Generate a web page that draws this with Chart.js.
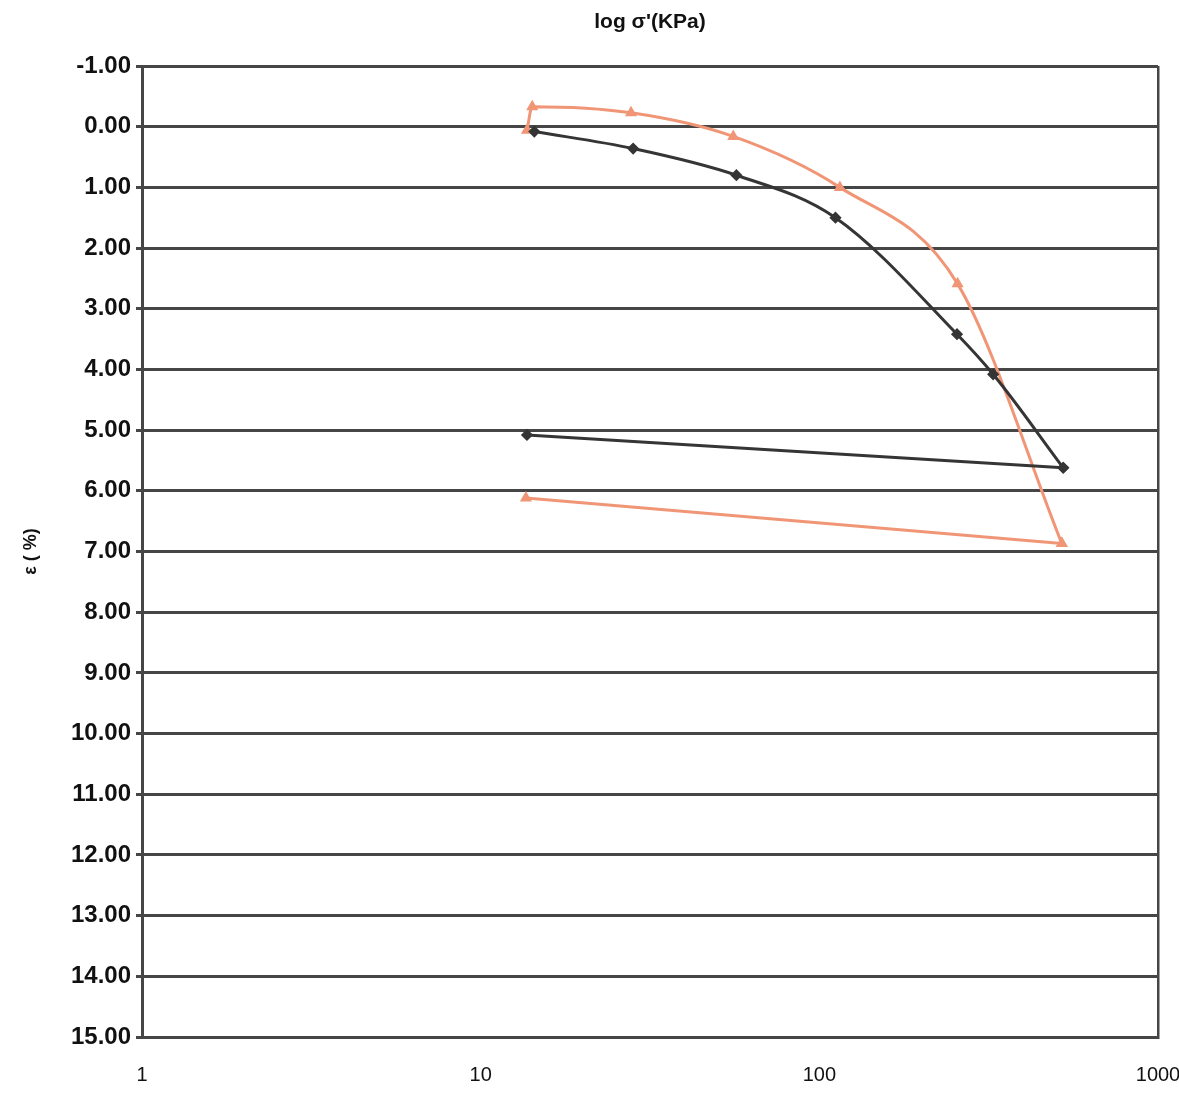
<!DOCTYPE html>
<html>
<head>
<meta charset="utf-8">
<script src="https://cdn.jsdelivr.net/npm/chart.js@4/dist/chart.umd.min.js"></script>
<style>
html,body{margin:0;padding:0;background:#fff;}
#wrap{width:1179px;height:1099px;position:relative;}
</style>
</head>
<body>
<div id="wrap"><canvas id="c" width="1179" height="1099"></canvas></div>
<script>
// Stress (kPa) and strain (%)
const blackLoadStress = [14.4, 28.2, 56.9, 111.6, 255, 326, 525];
const blackLoadStrain = [0.08, 0.36, 0.80, 1.50, 3.42, 4.08, 5.62];
const blackUnloadStress = [525, 13.7];
const blackUnloadStrain = [5.62, 5.08];
const redLoadStress = [13.7, 14.2, 27.8, 55.7, 115, 256, 520];
const redLoadStrain = [0.06, -0.33, -0.23, 0.16, 1.00, 2.59, 6.87];
const redUnloadStress = [520, 13.6];
const redUnloadStrain = [6.87, 6.12];
const xTickValues = [1, 10, 100, 1000];
const yMin = -1, yMax = 15;
const xTitle = "log σ'(KPa)";
const yTitle = "ε ( %)";

const toPts = (xs, ys) => xs.map((x, i) => ({x: x, y: ys[i]}));
const GRID = '#464646';
const BLACK = '#353535';
const RED = 'rgb(240,150,118)';
const FONT = 'Liberation Sans, Arial, sans-serif';

function series(xs, ys, color, style, smooth) {
  const d = {
    data: toPts(xs, ys),
    xAxisID: 'x',
    yAxisID: 'y',
    showLine: true,
    borderColor: color,
    backgroundColor: color,
    borderWidth: 3,
    pointStyle: style,
    pointRadius: 4,
    tension: smooth ? 0.4 : 0
  };
  if (smooth) d.cubicInterpolationMode = 'monotone';
  return d;
}

new Chart(document.getElementById('c'), {
  type: 'scatter',
  data: {
    datasets: [
      series(blackLoadStress, blackLoadStrain, BLACK, 'rectRot', true),
      series(blackUnloadStress, blackUnloadStrain, BLACK, 'rectRot', false),
      series(redLoadStress, redLoadStrain, RED, 'triangle', true),
      series(redUnloadStress, redUnloadStrain, RED, 'triangle', false)
    ]
  },
  options: {
    responsive: false,
    animation: false,
    layout: {padding: {left: 0, right: 0, top: 0, bottom: 0}},
    plugins: {
      legend: {display: false},
      tooltip: {enabled: false},
      title: {display: false}
    },
    scales: {
      x: {
        type: 'logarithmic',
        position: 'bottom',
        min: 1,
        max: 1000,
        afterBuildTicks: s => { s.ticks = xTickValues.map(v => ({value: v})); },
        afterFit: s => { s.height = 1099 - 1037; s.paddingRight = 21; },
        ticks: {
          color: '#111',
          padding: 26,
          maxRotation: 0,
          autoSkip: false,
          font: {family: FONT, size: 20},
          callback: v => String(v)
        },
        grid: {
          drawTicks: false,
          color: c => (c.tick && c.tick.value === 1000) ? GRID : 'rgba(0,0,0,0)',
          lineWidth: 2.5
        },
        border: {display: true, color: GRID, width: 3}
      },
      xTop: {
        type: 'linear',
        position: 'top',
        min: 0, max: 1,
        afterFit: s => { s.height = 66; },
        ticks: {display: false},
        grid: {display: false},
        border: {display: false},
        title: {
          display: true,
          text: xTitle,
          color: '#111',
          font: {family: FONT, size: 21, weight: 'bold'},
          padding: {top: 10, bottom: 0}
        }
      },
      y: {
        min: yMin,
        max: yMax,
        reverse: true,
        afterFit: s => { s.width = 142; },
        ticks: {
          stepSize: 1,
          color: '#111',
          padding: 5,
          font: {family: FONT, size: 24, weight: 'bold'},
          callback: v => Number(v).toFixed(2)
        },
        grid: {color: GRID, lineWidth: 3, tickLength: 6},
        border: {display: true, color: GRID, width: 3},
        title: {
          display: true,
          text: yTitle,
          color: '#111',
          font: {family: FONT, size: 18, weight: 'bold'},
          padding: {top: 20, bottom: 0}
        }
      }
    }
  }
});
</script>
</body>
</html>
